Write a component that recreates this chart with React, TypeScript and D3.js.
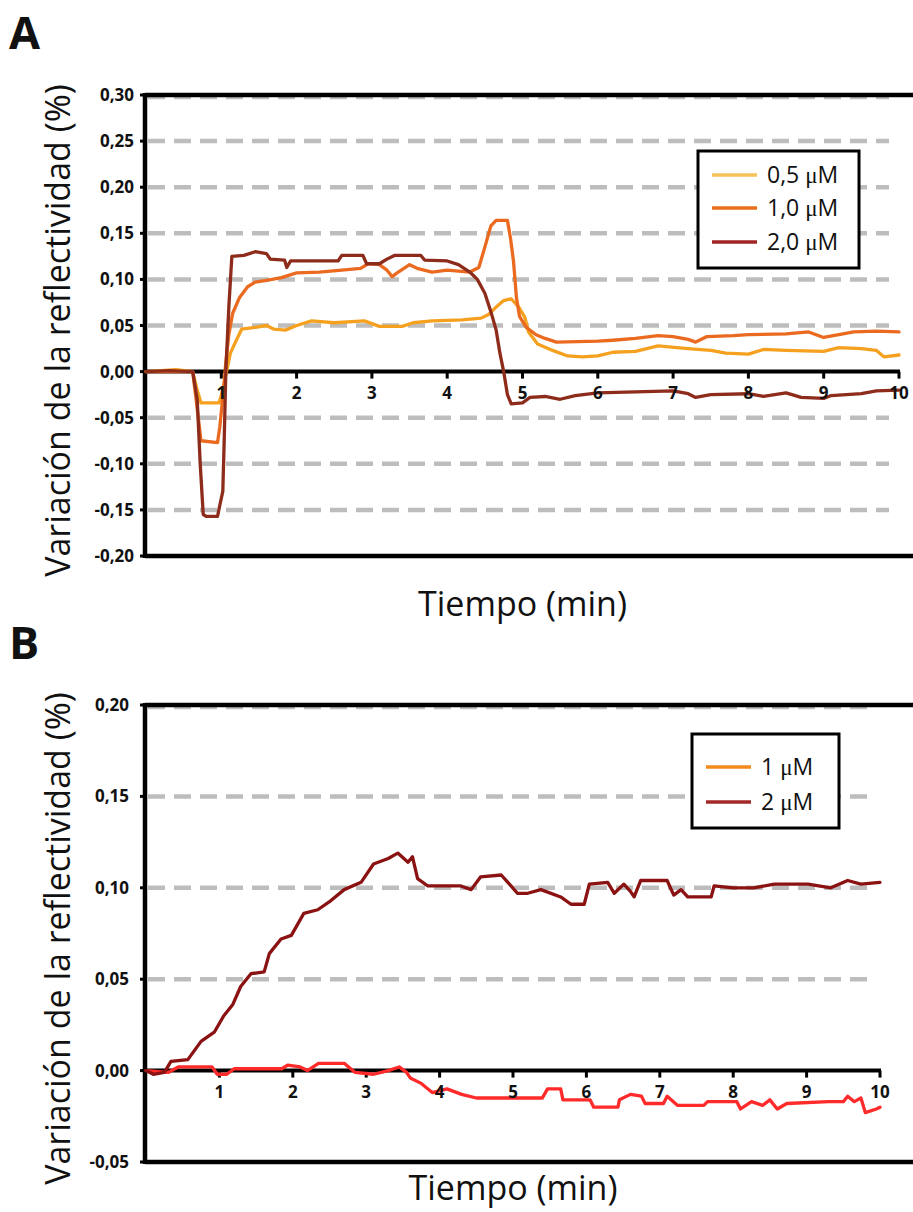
import React from "react";
import * as d3 from "d3";

// ---------- DATA ----------
const xTicks = [1, 2, 3, 4, 5, 6, 7, 8, 9, 10];
const yTicksA = [0.3, 0.25, 0.2, 0.15, 0.1, 0.05, 0, -0.05, -0.1, -0.15, -0.2];
const gridA = [0.3, 0.25, 0.2, 0.15, 0.1, 0.05, -0.05, -0.1, -0.15];
const yTicksB = [0.2, 0.15, 0.1, 0.05, 0, -0.05];
const gridB = [0.2, 0.15, 0.1, 0.05];

const seriesA05: [number, number][] = [
  [0, 0], [0.4, 0.002], [0.62, 0], [0.68, -0.02], [0.73, -0.034], [0.97, -0.034], [1.02, -0.02],
  [1.07, 0], [1.12, 0.02], [1.2, 0.034], [1.27, 0.046], [1.45, 0.048], [1.6, 0.05], [1.7, 0.046],
  [1.85, 0.045], [2.0, 0.05], [2.2, 0.055], [2.5, 0.053], [2.9, 0.055], [3.1, 0.049], [3.4, 0.049],
  [3.55, 0.053], [3.8, 0.055], [4.2, 0.056], [4.45, 0.058], [4.55, 0.062], [4.65, 0.07], [4.75, 0.077],
  [4.85, 0.079], [4.95, 0.07], [5.03, 0.059], [5.08, 0.043], [5.2, 0.03], [5.4, 0.023], [5.6, 0.017],
  [5.8, 0.016], [6.0, 0.017], [6.2, 0.021], [6.5, 0.022], [6.8, 0.028], [7.2, 0.025], [7.5, 0.023],
  [7.7, 0.02], [8.0, 0.019], [8.2, 0.024], [8.5, 0.023], [9.0, 0.022], [9.2, 0.026], [9.5, 0.025],
  [9.7, 0.023], [9.8, 0.016], [10, 0.018],
];

const seriesA10: [number, number][] = [
  [0, 0], [0.62, 0], [0.68, -0.04], [0.73, -0.075], [0.95, -0.077], [0.98, -0.06], [1.03, -0.02],
  [1.06, 0.01], [1.1, 0.04], [1.15, 0.063], [1.24, 0.08], [1.35, 0.092], [1.45, 0.097], [1.6, 0.099],
  [1.8, 0.102], [2.0, 0.107], [2.3, 0.108], [2.6, 0.11], [2.85, 0.112], [2.95, 0.117], [3.1, 0.116],
  [3.2, 0.11], [3.27, 0.103], [3.35, 0.108], [3.5, 0.116], [3.6, 0.112], [3.8, 0.108], [4.0, 0.11],
  [4.3, 0.108], [4.42, 0.113], [4.5, 0.135], [4.58, 0.158], [4.65, 0.164], [4.8, 0.164], [4.84, 0.145],
  [4.88, 0.12], [4.92, 0.08], [4.96, 0.06], [5.05, 0.048], [5.18, 0.04], [5.3, 0.036], [5.45, 0.032],
  [6.0, 0.033], [6.2, 0.034], [6.5, 0.036], [6.8, 0.039], [7.0, 0.038], [7.2, 0.035], [7.3, 0.032],
  [7.45, 0.038], [7.8, 0.039], [8.0, 0.04], [8.5, 0.041], [8.8, 0.043], [9.0, 0.037], [9.2, 0.04],
  [9.4, 0.043], [9.7, 0.044], [10, 0.043],
];

const seriesA20: [number, number][] = [
  [0, 0], [0.3, 0.001], [0.62, 0], [0.68, -0.03], [0.72, -0.1], [0.76, -0.155], [0.8, -0.157],
  [0.95, -0.157], [0.98, -0.145], [1.02, -0.13], [1.04, -0.07], [1.06, 0], [1.1, 0.07], [1.14, 0.125],
  [1.3, 0.126], [1.45, 0.13], [1.6, 0.128], [1.65, 0.122], [1.84, 0.121], [1.87, 0.113], [1.92, 0.12],
  [2.3, 0.12], [2.55, 0.12], [2.6, 0.126], [2.88, 0.126], [2.93, 0.117], [3.1, 0.117], [3.2, 0.122],
  [3.3, 0.126], [3.65, 0.126], [3.7, 0.121], [4.0, 0.12], [4.15, 0.116], [4.3, 0.108], [4.4, 0.1],
  [4.5, 0.085], [4.58, 0.065], [4.65, 0.045], [4.7, 0.02], [4.75, 0], [4.8, -0.025], [4.85, -0.035],
  [5.0, -0.034], [5.1, -0.028], [5.3, -0.027], [5.5, -0.03], [5.7, -0.026], [6.0, -0.023],
  [6.5, -0.022], [7.0, -0.021], [7.2, -0.024], [7.3, -0.028], [7.5, -0.025], [8.0, -0.024],
  [8.2, -0.027], [8.5, -0.023], [8.7, -0.028], [9.0, -0.029], [9.1, -0.026], [9.5, -0.024],
  [9.7, -0.021], [10, -0.02],
];

const seriesB2: [number, number][] = [
  [0, 0], [0.1, -0.002], [0.25, -0.001], [0.34, 0.005], [0.57, 0.006], [0.75, 0.016], [0.93, 0.021],
  [1.06, 0.03], [1.18, 0.036], [1.29, 0.046], [1.43, 0.053], [1.61, 0.054], [1.68, 0.064],
  [1.84, 0.072], [1.98, 0.074], [2.15, 0.086], [2.34, 0.088], [2.52, 0.093], [2.7, 0.099],
  [2.93, 0.103], [3.1, 0.113], [3.3, 0.116], [3.43, 0.119], [3.57, 0.114], [3.63, 0.117],
  [3.7, 0.105], [3.84, 0.101], [4.29, 0.101], [4.43, 0.099], [4.56, 0.106], [4.84, 0.107],
  [4.93, 0.103], [5.06, 0.097], [5.2, 0.097], [5.38, 0.099], [5.65, 0.095], [5.79, 0.091],
  [5.97, 0.091], [6.04, 0.102], [6.29, 0.103], [6.38, 0.097], [6.51, 0.102], [6.6, 0.098],
  [6.65, 0.095], [6.74, 0.104], [7.1, 0.104], [7.19, 0.096], [7.29, 0.099], [7.38, 0.095],
  [7.7, 0.095], [7.74, 0.101], [8.0, 0.1], [8.28, 0.1], [8.56, 0.102], [9.02, 0.102], [9.33, 0.1],
  [9.56, 0.104], [9.74, 0.102], [10, 0.103],
];

const seriesB1: [number, number][] = [
  [0, 0], [0.3, -0.001], [0.44, 0.002], [0.9, 0.002], [0.97, -0.002], [1.1, -0.002], [1.2, 0.001],
  [1.85, 0.001], [1.93, 0.003], [2.1, 0.002], [2.2, 0], [2.35, 0.004], [2.7, 0.004], [2.85, -0.001],
  [3.1, -0.002], [3.3, 0], [3.45, 0.002], [3.55, -0.001], [3.6, -0.004], [3.75, -0.007],
  [3.9, -0.012], [4.1, -0.01], [4.3, -0.013], [4.5, -0.015], [5.0, -0.015], [5.4, -0.015],
  [5.47, -0.01], [5.65, -0.01], [5.68, -0.016], [6.05, -0.016], [6.1, -0.02], [6.43, -0.02],
  [6.45, -0.016], [6.6, -0.013], [6.75, -0.014], [6.8, -0.018], [7.05, -0.018], [7.1, -0.014],
  [7.24, -0.019], [7.6, -0.019], [7.65, -0.017], [8.05, -0.017], [8.1, -0.021], [8.25, -0.017],
  [8.4, -0.019], [8.5, -0.016], [8.6, -0.021], [8.73, -0.018], [9.3, -0.017], [9.5, -0.017],
  [9.56, -0.014], [9.65, -0.017], [9.74, -0.015], [9.8, -0.023], [9.95, -0.021], [10, -0.02],
];

const legendA = [
  { num: "0,5", color: "#f6c25a", curve: "#f5a11f", data: seriesA05 },
  { num: "1,0", color: "#e8701e", curve: "#ea6a20", data: seriesA10 },
  { num: "2,0", color: "#a02424", curve: "#8e2c1c", data: seriesA20 },
];
const legendB = [
  { num: "1", color: "#f28a1e", curve: "#ff2a2a", data: seriesB1 },
  { num: "2", color: "#a32828", curve: "#8b1212", data: seriesB2 },
];

const fmt = (v: number) => d3.format(".2f")(v).replace("\u2212", "-").replace(".", ",");

const FONT = "'Open Sans', sans-serif";

type PanelProps = {
  letter: string;
  letterY: number;
  top: number;
  bottom: number;
  left: number;
  xEnd: number;
  gridEnd: number;
  yDomain: [number, number];
  yTicks: number[];
  grid: number[];
  tickLabelRight: number;
  series: { num: string; color: string; curve: string; data: [number, number][] }[];
  legend: { x: number; y: number; w: number; rowY: number[] };
  titleY: number;
};

function Panel(p: PanelProps) {
  const x = d3.scaleLinear().domain([0, 10]).range([p.left + 1, p.xEnd]);
  const y = d3.scaleLinear().domain(p.yDomain).range([p.bottom, p.top]);
  const line = d3
    .line<[number, number]>()
    .x((d) => x(d[0]))
    .y((d) => y(d[1]))
    .curve(d3.curveLinear);
  const zeroY = y(0);
  const labelCenter = (p.top + p.bottom) / 2 + 5;
  return (
    <g>
      <text x={9} y={p.letterY} fontFamily={FONT} fontWeight={700} fontSize={45} fill="#111">
        {p.letter}
      </text>
      {/* gridlines */}
      {p.grid.map((g) => (
        <line
          key={"g" + g}
          x1={p.left + 3}
          x2={p.gridEnd}
          y1={y(g) + (g === p.yDomain[1] ? 2 : 0)}
          y2={y(g) + (g === p.yDomain[1] ? 2 : 0)}
          stroke="#bdbdbd"
          strokeWidth={4.5}
          strokeDasharray="17 9"
        />
      ))}
      {/* frame */}
      <line x1={p.left} x2={913} y1={p.top} y2={p.top} stroke="#000" strokeWidth={4.5} />
      <line x1={p.left} x2={913} y1={p.bottom} y2={p.bottom} stroke="#000" strokeWidth={4.5} />
      <line x1={p.left} x2={p.left} y1={p.top - 2} y2={p.bottom + 2} stroke="#000" strokeWidth={4.5} />
      {/* zero axis */}
      <line x1={p.left} x2={p.xEnd + 1} y1={zeroY} y2={zeroY} stroke="#000" strokeWidth={4} />
      {xTicks.map((t) => (
        <line key={"xt" + t} x1={x(t)} x2={x(t)} y1={zeroY} y2={zeroY + 7} stroke="#000" strokeWidth={3} />
      ))}
      {/* y ticks */}
      {p.yTicks.map((t) => (
        <g key={"yt" + t}>
          <line x1={p.left - 5} x2={p.left} y1={y(t)} y2={y(t)} stroke="#000" strokeWidth={3} />
          <text
            x={p.tickLabelRight}
            y={y(t) + 6}
            textAnchor="end"
            fontFamily={FONT}
            fontWeight={700}
            fontSize={17}
            fill="#111"
          >
            {fmt(t)}
          </text>
        </g>
      ))}
      {/* series */}
      {p.series.map((s) => (
        <path
          key={"s" + s.num}
          d={line(s.data) || ""}
          fill="none"
          stroke={s.curve}
          strokeWidth={3.3}
          strokeLinejoin="round"
          strokeLinecap="round"
        />
      ))}
      {/* x tick labels */}
      {xTicks.map((t) => (
        <text
          key={"xl" + t}
          x={x(t)}
          y={zeroY + 27}
          textAnchor="middle"
          fontFamily={FONT}
          fontWeight={700}
          fontSize={17}
          fill="#111"
        >
          {t}
        </text>
      ))}
      {/* axis titles */}
      <text
        transform={`translate(70,${labelCenter}) rotate(-90)`}
        textAnchor="middle"
        fontFamily={FONT}
        fontSize={34}
        fill="#111"
      >
        Variación de la reflectividad (%)
      </text>
      <text x={(x(0) + x(10)) / 2} y={p.titleY} textAnchor="middle" fontFamily={FONT} fontSize={34} fill="#111">
        Tiempo (min)
      </text>
      {/* legend */}
      <rect
        x={p.legend.x}
        y={p.legend.y}
        width={p.legend.w}
        height={p.legend.rowY[p.legend.rowY.length - 1] - p.legend.y + 26}
        fill="#fff"
        stroke="#000"
        strokeWidth={3}
      />
      {p.series.map((s, i) => (
        <g key={"l" + s.num}>
          <line
            x1={p.legend.x + 14}
            x2={p.legend.x + 59}
            y1={p.legend.rowY[i]}
            y2={p.legend.rowY[i]}
            stroke={s.color}
            strokeWidth={3.5}
          />
          <text x={p.legend.x + 69} y={p.legend.rowY[i] + 8} fontFamily={FONT} fontSize={23} fill="#111">
            {s.num + " "}
            <tspan fontFamily="'Liberation Serif', serif">μ</tspan>M
          </text>
        </g>
      ))}
    </g>
  );
}

export default function App() {
  return (
    <svg
      width={913}
      height={1212}
      style={{ position: "absolute", left: 0, top: 0, background: "#fff" }}
    >
      <rect width={913} height={1212} fill="#fff" />
      <Panel
        letter="A"
        letterY={49}
        top={95}
        bottom={556}
        left={145}
        xEnd={899}
        gridEnd={889}
        yDomain={[-0.2, 0.3]}
        yTicks={yTicksA}
        grid={gridA}
        tickLabelRight={134}
        series={legendA}
        legend={{ x: 698, y: 151, w: 161, rowY: [175, 208, 242] }}
        titleY={616}
      />
      <Panel
        letter="B"
        letterY={659}
        top={705}
        bottom={1162}
        left={145}
        xEnd={880}
        gridEnd={870}
        yDomain={[-0.05, 0.2]}
        yTicks={yTicksB}
        grid={gridB}
        tickLabelRight={129}
        series={legendB}
        legend={{ x: 692, y: 734, w: 147, rowY: [767, 802] }}
        titleY={1200}
      />
    </svg>
  );
}
